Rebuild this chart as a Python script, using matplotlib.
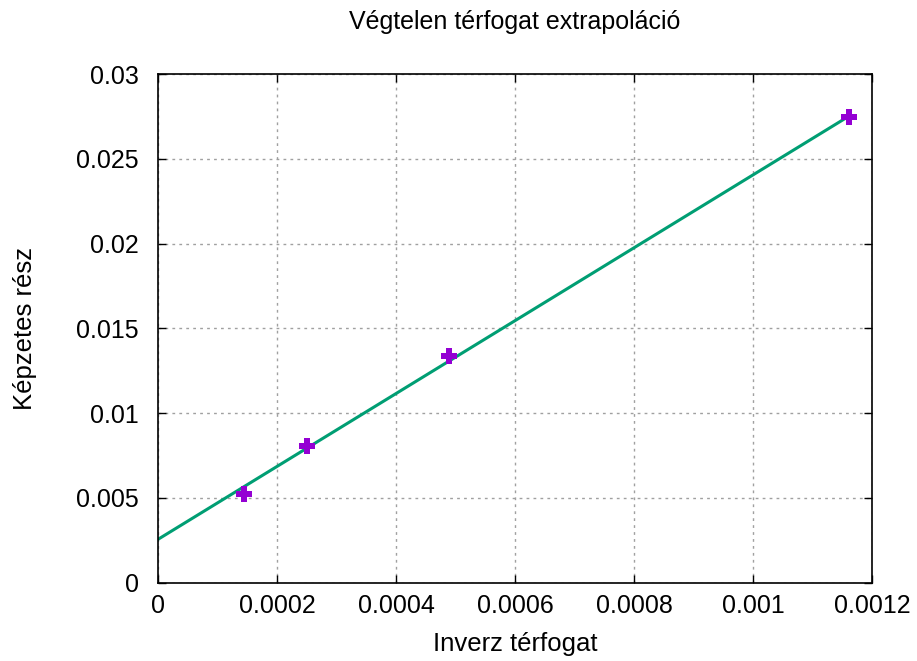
import matplotlib
matplotlib.use("Agg")
import matplotlib.pyplot as plt

# Measured points
inv_volume = [0.000145, 0.00025, 0.000489, 0.001161]
imag_part = [0.00522, 0.00807, 0.01338, 0.02746]

# Fitted line endpoints
fit_x = [0.0, 0.00116]
fit_y = [0.00256, 0.0275]

x_ticks = [0, 0.0002, 0.0004, 0.0006, 0.0008, 0.001, 0.0012]
x_labels = ["0", "0.0002", "0.0004", "0.0006", "0.0008", "0.001", "0.0012"]
y_ticks = [0, 0.005, 0.01, 0.015, 0.02, 0.025, 0.03]
y_labels = ["0", "0.005", "0.01", "0.015", "0.02", "0.025", "0.03"]

plt.rcParams["font.family"] = ["Liberation Sans", "DejaVu Sans"]

fig = plt.figure(figsize=(9.17, 6.61), dpi=100)
ax = fig.add_axes([0.1723, 0.1184, 0.7786, 0.7693])

ax.plot(fit_x, fit_y, color="#009e73", lw=2.2, zorder=2)
ax.plot(inv_volume, imag_part, linestyle="none", marker="P", markersize=12,
        color="#9400d3", markeredgewidth=0, zorder=3)

ax.set_xlim(0, 0.0012)
ax.set_ylim(0, 0.03)
ax.set_xticks(x_ticks)
ax.set_xticklabels(x_labels)
ax.set_yticks(y_ticks)
ax.set_yticklabels(y_labels)
ax.tick_params(direction="in", top=True, right=True, length=6, width=1,
               labelsize=18)
ax.tick_params(axis="x", pad=8)
ax.tick_params(axis="y", pad=14)
ax.grid(True, color="#a0a0a0", linestyle=(0, (2, 3)), lw=1)
for s in ax.spines.values():
    s.set_linewidth(1.2)

ax.set_xlabel("Inverz térfogat", fontsize=18.5, labelpad=10)
ax.set_ylabel("Képzetes rész", fontsize=18.5, labelpad=28)
fig.text(0.5616, 1 - 22 / 661, "Végtelen térfogat extrapoláció",
         fontsize=18, ha="center", va="center")

fig.savefig("out.png", dpi=100)
